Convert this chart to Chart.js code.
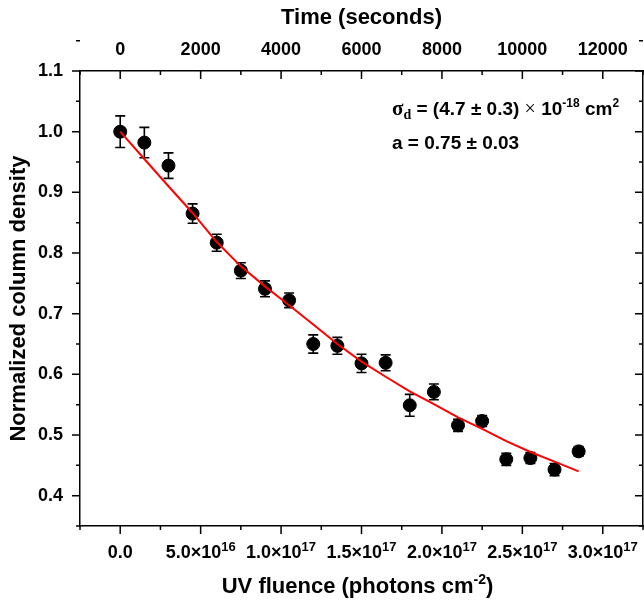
<!DOCTYPE html>
<html>
<head>
<meta charset="utf-8">
<script src="https://cdn.jsdelivr.net/npm/chart.js@4.4.0/dist/chart.umd.min.js"></script>
<style>
  html, body { margin: 0; padding: 0; background: #fff; }
</style>
</head>
<body>
<canvas id="myChart" width="644" height="601"></canvas>
<script>
// measured points (fluence in photons cm-2)
var fluence = [0, 1.5e16, 3.0e16, 4.5e16, 6.0e16, 7.5e16, 9.0e16, 1.05e17, 1.2e17, 1.35e17,
               1.5e17, 1.65e17, 1.8e17, 1.95e17, 2.1e17, 2.25e17, 2.4e17, 2.55e17, 2.7e17, 2.85e17];
var density = [1.000, 0.982, 0.944, 0.865, 0.817, 0.771, 0.741, 0.722, 0.650, 0.647,
               0.618, 0.619, 0.549, 0.571, 0.516, 0.523, 0.460, 0.462, 0.443, 0.473];
var densityErr = [0.026, 0.025, 0.021, 0.016, 0.014, 0.013, 0.013, 0.012, 0.015, 0.014,
                  0.015, 0.013, 0.018, 0.013, 0.010, 0.009, 0.010, 0.009, 0.010, 0.008];
var fitDensity = [1.000, 0.955, 0.910, 0.866, 0.818, 0.778, 0.745, 0.714, 0.682, 0.650,
                  0.621, 0.596, 0.572, 0.551, 0.529, 0.510, 0.490, 0.472, 0.456, 0.440];

// axes
var fluenceTicks = [0, 5e16, 1e17, 1.5e17, 2e17, 2.5e17, 3e17];
var fluenceLabels = [['0.0', ''], ['5.0\u00d710', '16'], ['1.0\u00d710', '17'], ['1.5\u00d710', '17'],
                     ['2.0\u00d710', '17'], ['2.5\u00d710', '17'], ['3.0\u00d710', '17']];
var timeTicks = [0, 2000, 4000, 6000, 8000, 10000, 12000];
var densityTicks = [0.4, 0.5, 0.6, 0.7, 0.8, 0.9, 1.0, 1.1];

var SANS = "'Liberation Sans', Arial, sans-serif";
var SERIF = "'Liberation Serif', 'Times New Roman', serif";

function pts(xs, ys) {
    return xs.map(function(x, i) { return {x: x, y: ys[i]}; });
}

// draw a run of text pieces, each with its own font and vertical shift
function richText(ctx, parts, x, y, align) {
    var w = 0;
    parts.forEach(function(p) { ctx.font = p.font; w += ctx.measureText(p.t).width; });
    var cx = align === 'center' ? x - w / 2 : (align === 'right' ? x - w : x);
    ctx.textAlign = 'left';
    ctx.textBaseline = 'alphabetic';
    parts.forEach(function(p) {
        ctx.font = p.font;
        ctx.fillText(p.t, cx, y + (p.dy || 0));
        cx += ctx.measureText(p.t).width;
    });
}

function midTicks(majors, half) {
    var out = [majors[0] - half];
    majors.forEach(function(v) { out.push(v + half); });
    return out;
}

var axisDecor = {
    id: 'axisDecor',
    beforeDatasetsDraw: function(chart) {
        //error bars go under the markers
        var ctx = chart.ctx, xs = chart.scales.x, ys = chart.scales.y;
        ctx.save();
        ctx.strokeStyle = '#000';
        ctx.lineWidth = 1.6;
        fluence.forEach(function(f, i) {
            var px = xs.getPixelForValue(f);
            var top = ys.getPixelForValue(density[i] + densityErr[i]);
            var bot = ys.getPixelForValue(density[i] - densityErr[i]);
            ctx.beginPath();
            ctx.moveTo(px, top); ctx.lineTo(px, bot);
            ctx.moveTo(px - 5, top); ctx.lineTo(px + 5, top);
            ctx.moveTo(px - 5, bot); ctx.lineTo(px + 5, bot);
            ctx.stroke();
        });
        ctx.restore();
    },
    afterDraw: function(chart) {
        var ctx = chart.ctx, a = chart.chartArea;
        var xs = chart.scales.x, xt = chart.scales.x2, ys = chart.scales.y;
        var MAJ = 8, MIN = 4;
        ctx.save();
        ctx.strokeStyle = '#000';
        ctx.fillStyle = '#000';
        ctx.lineWidth = 1.5;
        ctx.beginPath();
        // bottom: outward
        fluenceTicks.forEach(function(v) { var p = xs.getPixelForValue(v); ctx.moveTo(p, a.bottom); ctx.lineTo(p, a.bottom + MAJ); });
        midTicks(fluenceTicks, 2.5e16).forEach(function(v) { var p = xs.getPixelForValue(v); ctx.moveTo(p, a.bottom); ctx.lineTo(p, a.bottom + MIN); });
        // top: inward
        timeTicks.forEach(function(v) { var p = xt.getPixelForValue(v); ctx.moveTo(p, a.top); ctx.lineTo(p, a.top + MAJ); });
        midTicks(timeTicks, 1000).forEach(function(v) { var p = xt.getPixelForValue(v); ctx.moveTo(p, a.top); ctx.lineTo(p, a.top + MIN); });
        // left outward, right inward
        densityTicks.forEach(function(v) {
            var p = ys.getPixelForValue(v);
            ctx.moveTo(a.left, p); ctx.lineTo(a.left - MAJ, p);
            ctx.moveTo(a.right, p); ctx.lineTo(a.right - MAJ, p);
        });
        midTicks(densityTicks, 0.05).forEach(function(v) {
            var p = ys.getPixelForValue(v);
            ctx.moveTo(a.left, p); ctx.lineTo(a.left - MIN, p);
            ctx.moveTo(a.right, p); ctx.lineTo(a.right - MIN, p);
        });
        ctx.stroke();

        // tick labels
        var tickFont = 'bold 18px ' + SANS, supFont = 'bold 13px ' + SANS;
        fluenceTicks.forEach(function(v, i) {
            richText(ctx, [{t: fluenceLabels[i][0], font: tickFont}, {t: fluenceLabels[i][1], font: supFont, dy: -7}],
                     xs.getPixelForValue(v), a.bottom + 32, 'center');
        });
        ctx.font = tickFont;
        ctx.textAlign = 'center';
        ctx.textBaseline = 'middle';
        timeTicks.forEach(function(v) { ctx.fillText(String(v), xt.getPixelForValue(v), a.top - 21); });
        ctx.textAlign = 'right';
        densityTicks.forEach(function(v) { ctx.fillText(v.toFixed(1), a.left - 17, ys.getPixelForValue(v)); });

        // axis titles
        var titleFont = 'bold 22px ' + SANS;
        ctx.font = titleFont;
        ctx.textAlign = 'center';
        ctx.textBaseline = 'middle';
        ctx.fillText('Time (seconds)', (a.left + a.right) / 2, 18);
        richText(ctx, [{t: 'UV fluence (photons cm', font: titleFont}, {t: '-2', font: 'bold 14px ' + SANS, dy: -9},
                       {t: ')', font: titleFont}], (a.left + a.right) / 2 - 4, 593, 'center');
        ctx.save();
        ctx.translate(19, (a.top + a.bottom) / 2);
        ctx.rotate(-Math.PI / 2);
        ctx.font = titleFont;
        ctx.textAlign = 'center';
        ctx.textBaseline = 'middle';
        ctx.fillText('Normalized column density', 0, 0);
        ctx.restore();

        // fit parameters
        var f = 'bold 19px ' + SANS, s = 'bold 12px ' + SANS;
        richText(ctx, [
            {t: '\u03c3', font: 'bold 21px ' + SERIF},
            {t: 'd', font: 'bold 14px ' + SERIF, dy: 4},
            {t: ' = (4.7 \u00b1 0.3) ', font: f},
            {t: '\u00d7', font: '20px ' + SERIF},
            {t: ' 10', font: f},
            {t: '-18', font: s, dy: -8},
            {t: ' cm', font: f},
            {t: '2', font: s, dy: -8}
        ], 392, 115, 'left');
        richText(ctx, [{t: 'a = 0.75 \u00b1 0.03', font: f}], 392, 149, 'left');
        ctx.restore();
    }
};

var axisBase = {
    grid: {display: true, drawOnChartArea: false, drawTicks: false},
    border: {display: true, color: '#000', width: 1.5},
    ticks: {display: false}
};

var ctx = document.getElementById('myChart').getContext('2d');
var chart = new Chart(ctx, {
    type: 'scatter',
    data: {
        datasets: [{
            label: 'fit',
            data: pts(fluence, fitDensity),
            showLine: true,
            borderColor: '#ff0000',
            borderWidth: 2,
            pointRadius: 0,
            fill: false,
            order: 0
        }, {
            label: 'data',
            data: pts(fluence, density),
            pointRadius: 6.5,
            pointBackgroundColor: '#000',
            pointBorderColor: '#000',
            order: 1
        }]
    },
    options: {
        responsive: false,
        animation: false,
        devicePixelRatio: 1,
        layout: {padding: 0, autoPadding: false},
        plugins: {legend: {display: false}, tooltip: {enabled: false}},
        scales: {
            x: Object.assign({}, axisBase, {type: 'linear', position: 'bottom', min: -2.5e16, max: 3.25e17,
                afterFit: function(s) { s.height = 75; }}),
            x2: Object.assign({}, axisBase, {type: 'linear', position: 'top', min: -1000, max: 13000,
                afterFit: function(s) { s.height = 71; }}),
            y: Object.assign({}, axisBase, {type: 'linear', position: 'left', min: 0.35, max: 1.1,
                afterFit: function(s) { s.width = 80; }}),
            y2: Object.assign({}, axisBase, {type: 'linear', position: 'right', min: 0.35, max: 1.1,
                afterFit: function(s) { s.width = 1; }})
        }
    },
    plugins: [axisDecor]
});
</script>
</body>
</html>
